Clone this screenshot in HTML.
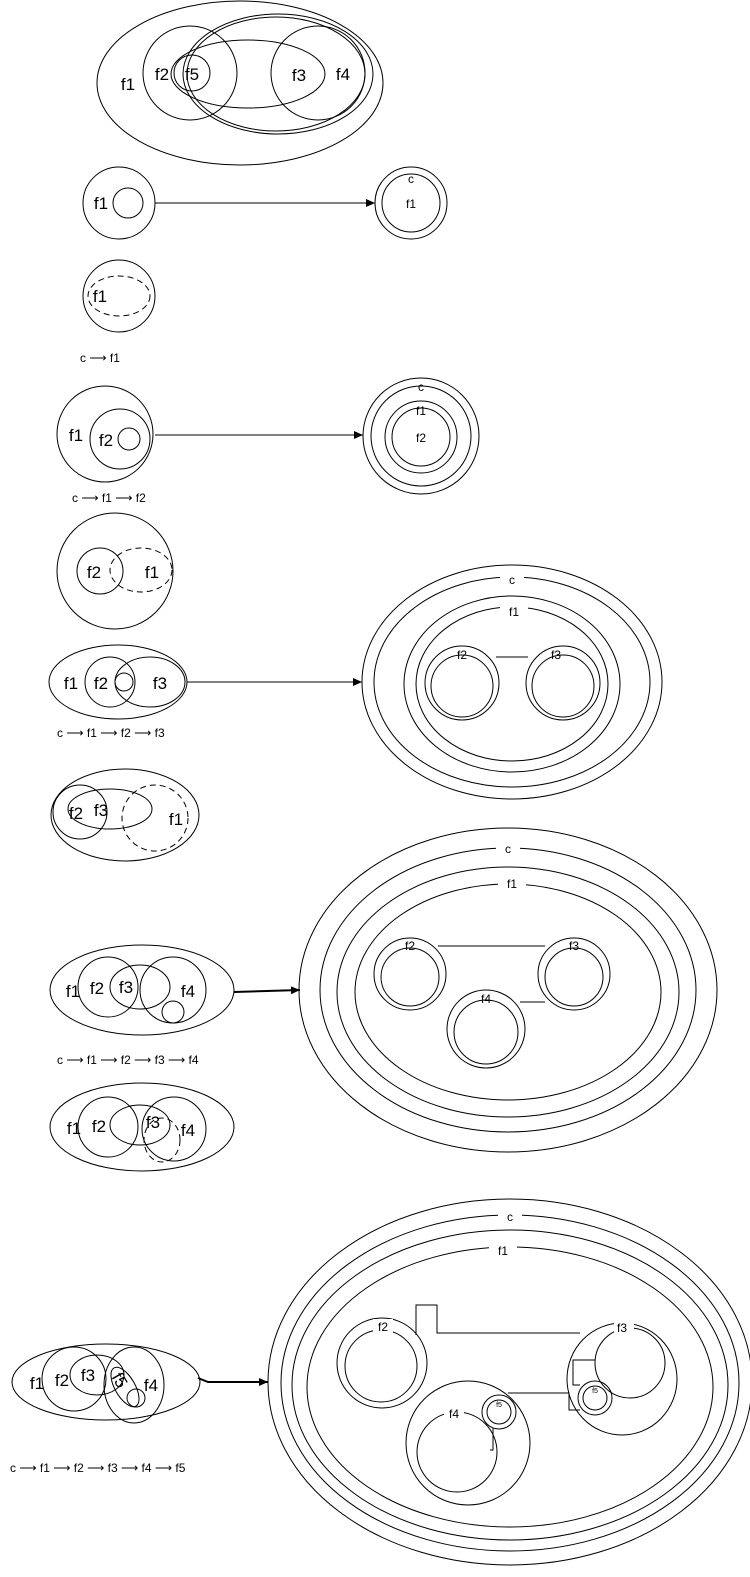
<!DOCTYPE html>
<html><head><meta charset="utf-8"><style>
body{margin:0;background:#fff}
svg{display:block}
text{font-family:"Liberation Sans",sans-serif;fill:#000}
.b{font-size:17px}.s{font-size:12px}.t{font-size:12px}
ellipse,circle,path,line{fill:none;stroke:#000;stroke-width:1}
.d{stroke-dasharray:6 4}
</style></head><body>
<svg width="750" height="1577" viewBox="0 0 750 1577">
<defs><marker id="ah" markerUnits="userSpaceOnUse" markerWidth="9" markerHeight="8" refX="9" refY="4" orient="auto"><path d="M0,0 L9,4 L0,8 Z" style="fill:#000;stroke:none"/></marker></defs>

<g>
<ellipse cx="240" cy="83" rx="143" ry="82"/>
<circle cx="190" cy="73" r="47"/>
<ellipse cx="278" cy="74" rx="95" ry="60"/>
<ellipse cx="276" cy="74" rx="89" ry="57"/>
<circle cx="318" cy="73" r="47"/>
<ellipse cx="248" cy="74" rx="77" ry="34"/>
<circle cx="192" cy="73" r="18"/>
<text class="b" x="128" y="90" text-anchor="middle">f1</text>
<text class="b" x="162" y="80" text-anchor="middle">f2</text>
<text class="b" x="192" y="80" text-anchor="middle">f5</text>
<text class="b" x="299" y="81" text-anchor="middle">f3</text>
<text class="b" x="343" y="80" text-anchor="middle">f4</text>
</g>

<g>
<circle cx="119" cy="203" r="36"/><circle cx="128" cy="203" r="15"/>
<text class="b" x="101" y="209" text-anchor="middle">f1</text>
<line x1="155" y1="203" x2="375" y2="203" marker-end="url(#ah)"/>
<circle cx="411" cy="203" r="36"/><circle cx="411" cy="203" r="29"/>
<text class="s" x="411" y="183" text-anchor="middle">c</text>
<text class="s" x="411" y="208" text-anchor="middle">f1</text>
<circle cx="119" cy="296" r="36"/><ellipse class="d" cx="119" cy="296" rx="31" ry="20"/>
<text class="b" x="100" y="302" text-anchor="middle">f1</text>
<text class="t" x="80" y="362">c ⟶ f1</text>
</g>

<g>
<circle cx="105" cy="434" r="48"/><circle cx="120" cy="439" r="30"/><circle cx="129" cy="439" r="11"/>
<text class="b" x="76" y="441" text-anchor="middle">f1</text>
<text class="b" x="106" y="446" text-anchor="middle">f2</text>
<line x1="155" y1="435" x2="363" y2="435" marker-end="url(#ah)"/>
<circle cx="421" cy="436" r="58"/><circle cx="421" cy="436" r="50"/><circle cx="421" cy="437" r="36"/><circle cx="421" cy="437" r="29"/>
<text class="s" x="421" y="391" text-anchor="middle">c</text>
<text class="s" x="421" y="415" text-anchor="middle">f1</text>
<text class="s" x="421" y="442" text-anchor="middle">f2</text>
<text class="t" x="72" y="502">c ⟶ f1 ⟶ f2</text>
<circle cx="115" cy="571" r="58"/><circle cx="100" cy="571" r="23"/><ellipse class="d" cx="141" cy="570" rx="31" ry="22"/>
<text class="b" x="94" y="578" text-anchor="middle">f2</text>
<text class="b" x="152" y="578" text-anchor="middle">f1</text>
</g>

<g>
<ellipse cx="118" cy="682" rx="69" ry="37"/><circle cx="110" cy="682" r="25"/><ellipse cx="150" cy="682" rx="35" ry="25"/><circle cx="124" cy="682" r="9"/>
<text class="b" x="71" y="689" text-anchor="middle">f1</text>
<text class="b" x="101" y="689" text-anchor="middle">f2</text>
<text class="b" x="160" y="689" text-anchor="middle">f3</text>
<line x1="187" y1="682" x2="362" y2="682" marker-end="url(#ah)"/>
<ellipse cx="512" cy="682" rx="150" ry="117"/><ellipse cx="512" cy="682" rx="138" ry="105"/>
<ellipse cx="512" cy="684" rx="108" ry="88"/><ellipse cx="512" cy="684" rx="96" ry="77"/>
<rect x="500" y="572" width="24" height="14" style="fill:#fff"/><text class="s" x="512" y="584" text-anchor="middle">c</text>
<rect x="500" y="604" width="28" height="14" style="fill:#fff"/><text class="s" x="514" y="616" text-anchor="middle">f1</text>
<circle cx="462" cy="683" r="37"/><circle cx="462" cy="686" r="31"/>
<circle cx="563" cy="683" r="37"/><circle cx="563" cy="686" r="31"/>
<line x1="496" y1="657" x2="528" y2="657"/>
<text class="s" x="462" y="659" text-anchor="middle">f2</text>
<text class="s" x="556" y="659" text-anchor="middle">f3</text>
<text class="t" x="57" y="737">c ⟶ f1 ⟶ f2 ⟶ f3</text>
<ellipse cx="125" cy="815" rx="74" ry="46"/><circle cx="80" cy="812" r="27"/><ellipse cx="110" cy="809" rx="42" ry="20"/><circle class="d" cx="155" cy="818" r="33"/>
<text class="b" x="76" y="819" text-anchor="middle">f2</text>
<text class="b" x="101" y="816" text-anchor="middle">f3</text>
<text class="b" x="176" y="825" text-anchor="middle">f1</text>
</g>

<g>
<ellipse cx="142" cy="990" rx="92" ry="45"/><circle cx="108" cy="987" r="30"/><ellipse cx="140" cy="987" rx="30" ry="22"/><circle cx="173" cy="990" r="33"/><circle cx="173" cy="1012" r="11"/>
<text class="b" x="73" y="997" text-anchor="middle">f1</text>
<text class="b" x="97" y="994" text-anchor="middle">f2</text>
<text class="b" x="126" y="993" text-anchor="middle">f3</text>
<text class="b" x="188" y="997" text-anchor="middle">f4</text>
<line x1="234" y1="992" x2="300" y2="990" style="stroke-width:2" marker-end="url(#ah)"/>
<ellipse cx="508" cy="990" rx="209" ry="162"/><ellipse cx="508" cy="990" rx="188" ry="142"/>
<ellipse cx="508" cy="992" rx="171" ry="125"/><ellipse cx="508" cy="992" rx="153" ry="108"/>
<rect x="496" y="841" width="24" height="14" style="fill:#fff"/><text class="s" x="508" y="853" text-anchor="middle">c</text>
<rect x="498" y="876" width="28" height="14" style="fill:#fff"/><text class="s" x="512" y="888" text-anchor="middle">f1</text>
<circle cx="410" cy="974" r="36"/><circle cx="410" cy="977" r="29"/>
<circle cx="574" cy="974" r="36"/><circle cx="574" cy="977" r="29"/>
<circle cx="486" cy="1029" r="39"/><circle cx="486" cy="1032" r="32"/>
<line x1="438" y1="946" x2="545" y2="946"/><line x1="520" y1="1002" x2="545" y2="1002"/>
<text class="s" x="410" y="950" text-anchor="middle">f2</text>
<text class="s" x="574" y="950" text-anchor="middle">f3</text>
<text class="s" x="486" y="1003" text-anchor="middle">f4</text>
<text class="t" x="57" y="1064">c ⟶ f1 ⟶ f2 ⟶ f3 ⟶ f4</text>
<ellipse cx="142" cy="1127" rx="92" ry="44"/><circle cx="108" cy="1127" r="30"/><ellipse cx="140" cy="1125" rx="30" ry="20"/><circle cx="174" cy="1129" r="32"/><ellipse class="d" cx="162" cy="1140" rx="18" ry="22"/>
<text class="b" x="74" y="1134" text-anchor="middle">f1</text>
<text class="b" x="99" y="1132" text-anchor="middle">f2</text>
<text class="b" x="153" y="1128" text-anchor="middle">f3</text>
<text class="b" x="188" y="1136" text-anchor="middle">f4</text>
</g>

<g>
<ellipse cx="106" cy="1382" rx="94" ry="38"/><circle cx="74" cy="1379" r="32"/><ellipse cx="97" cy="1375" rx="27" ry="20"/>
<ellipse cx="134" cy="1385" rx="30" ry="38"/><ellipse cx="125" cy="1387" rx="10" ry="22" transform="rotate(-30 125 1387)"/><circle cx="136" cy="1398" r="9"/>
<text class="b" x="37" y="1389" text-anchor="middle">f1</text>
<text class="b" x="62" y="1386" text-anchor="middle">f2</text>
<text class="b" x="88" y="1381" text-anchor="middle">f3</text>
<text class="b" x="120" y="1386" text-anchor="middle" transform="rotate(60 120 1380)">f5</text>
<text class="b" x="151" y="1391" text-anchor="middle">f4</text>
<path d="M198,1378 L208,1382 L268,1382" style="stroke-width:2" marker-end="url(#ah)"/>
<ellipse cx="510" cy="1382" rx="242" ry="183"/><ellipse cx="510" cy="1383" rx="229" ry="168"/>
<ellipse cx="510" cy="1385" rx="218" ry="155"/><ellipse cx="510" cy="1387" rx="203" ry="140"/>
<rect x="498" y="1209" width="24" height="14" style="fill:#fff"/><text class="s" x="510" y="1221" text-anchor="middle">c</text>
<rect x="489" y="1243" width="28" height="14" style="fill:#fff"/><text class="s" x="503" y="1255" text-anchor="middle">f1</text>
<circle cx="382" cy="1363" r="45"/><circle cx="381" cy="1366" r="36"/>
<ellipse cx="622" cy="1379" rx="55" ry="56"/><circle cx="630" cy="1363" r="35"/>
<circle cx="468" cy="1443" r="62"/><circle cx="457" cy="1452" r="40"/>
<circle cx="499" cy="1412" r="17"/><circle cx="499" cy="1412" r="12"/>
<circle cx="595" cy="1398" r="17"/><circle cx="595" cy="1398" r="12"/>
<path d="M416,1335 L416,1305 L437,1305 L437,1333 L580,1333"/>
<path d="M595,1360 L573,1360 L573,1385 L580,1385"/>
<path d="M508,1393 L569,1393 L569,1410 L580,1410"/>
<path d="M493,1428 L493,1450 L490,1450"/>
<rect x="373" y="1319" width="20" height="14" style="fill:#fff;stroke:none"/><text class="s" x="383" y="1331" text-anchor="middle">f2</text>
<rect x="614" y="1319" width="20" height="14" style="fill:#fff;stroke:none"/><text class="s" x="622" y="1332" text-anchor="middle">f3</text>
<rect x="444" y="1406" width="20" height="14" style="fill:#fff;stroke:none"/><text class="s" x="454" y="1418" text-anchor="middle">f4</text>
<text x="499" y="1407" text-anchor="middle" style="font-size:7px">f5</text>
<text x="595" y="1393" text-anchor="middle" style="font-size:7px">f5</text>
<text class="t" x="10" y="1472">c ⟶ f1 ⟶ f2 ⟶ f3 ⟶ f4 ⟶ f5</text>
</g>
</svg>
</body></html>
